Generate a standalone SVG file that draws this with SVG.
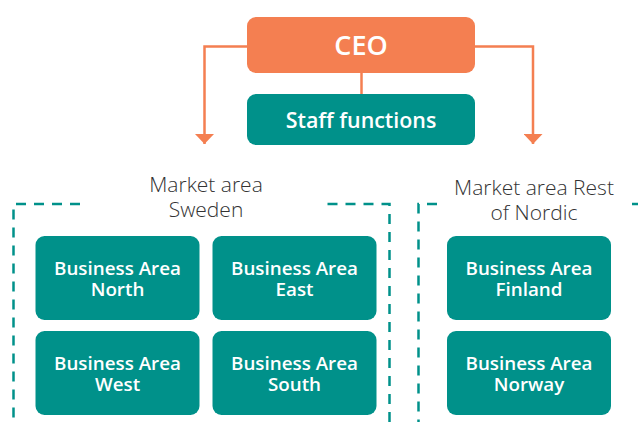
<svg xmlns="http://www.w3.org/2000/svg" width="638" height="422" viewBox="0 0 638 422">
<defs>
<style>
.ba{fill:#00918A}
.bt{font-family:"Open Sans","Noto Sans",sans-serif;font-weight:600;font-size:18.8px;fill:#fff;text-anchor:middle}
.mt{font-family:"Open Sans","Noto Sans",sans-serif;font-weight:300;font-size:21px;fill:#333;text-anchor:middle}
.dash{fill:none;stroke:#00918A;stroke-width:2.5;stroke-dasharray:10 8}
.con{fill:none;stroke:#F47F51;stroke-width:2.5}
</style>
<marker id="ah" viewBox="0 0 10 10" refX="10" refY="5" markerWidth="10" markerHeight="19" markerUnits="userSpaceOnUse" orient="auto" preserveAspectRatio="none">
<path d="M0,0 L10,5 L0,10 Z" fill="#F47F51"/>
</marker>
</defs>
<g id="connectors">
<path class="con" d="M247,46.5 H204.5 V144" marker-end="url(#ah)"/>
<path class="con" d="M475,46.5 H533 V144" marker-end="url(#ah)"/>
<path class="con" d="M361.5,72 V94"/>
</g>
<g id="market-sweden">
<path class="dash" d="M80,204 H13.5 V422"/>
<path class="dash" d="M389.5,422 V204 H327"/>
<text class="mt" x="206" y="192">Market area<tspan x="206" dy="25">Sweden</tspan></text>
</g>
<g id="market-nordic">
<path class="dash" d="M437,204 H418.5 V422"/>
<path class="dash" d="M632,204 H640"/>
<text class="mt" x="534" y="195">Market area Rest<tspan x="534" dy="25">of Nordic</tspan></text>
</g>
<g id="ceo">
<rect x="247" y="17" width="228" height="56" rx="9" fill="#F47F51"/>
<text x="361" y="55" font-family="'Open Sans','Noto Sans',sans-serif" font-weight="600" font-size="27" fill="#fff" text-anchor="middle">CEO</text>
</g>
<g id="staff">
<rect x="247" y="94" width="228" height="51" rx="9" fill="#00918A"/>
<text x="361" y="127.5" font-family="'Open Sans','Noto Sans',sans-serif" font-weight="600" font-size="21.4" fill="#fff" text-anchor="middle">Staff functions</text>
</g>
<g id="ba-north">
<rect class="ba" x="35.5" y="236" width="164" height="84" rx="9"/>
<text class="bt" x="117.5" y="275">Business Area<tspan x="117.5" dy="21">North</tspan></text>
</g>
<g id="ba-east">
<rect class="ba" x="212.5" y="236" width="164" height="84" rx="9"/>
<text class="bt" x="294.5" y="275">Business Area<tspan x="294.5" dy="21">East</tspan></text>
</g>
<g id="ba-west">
<rect class="ba" x="35.5" y="331" width="164" height="84" rx="9"/>
<text class="bt" x="117.5" y="370">Business Area<tspan x="117.5" dy="21">West</tspan></text>
</g>
<g id="ba-south">
<rect class="ba" x="212.5" y="331" width="164" height="84" rx="9"/>
<text class="bt" x="294.5" y="370">Business Area<tspan x="294.5" dy="21">South</tspan></text>
</g>
<g id="ba-finland">
<rect class="ba" x="447" y="236" width="164" height="84" rx="9"/>
<text class="bt" x="529" y="275">Business Area<tspan x="529" dy="21">Finland</tspan></text>
</g>
<g id="ba-norway">
<rect class="ba" x="447" y="331" width="164" height="84" rx="9"/>
<text class="bt" x="529" y="370">Business Area<tspan x="529" dy="21">Norway</tspan></text>
</g>
</svg>
